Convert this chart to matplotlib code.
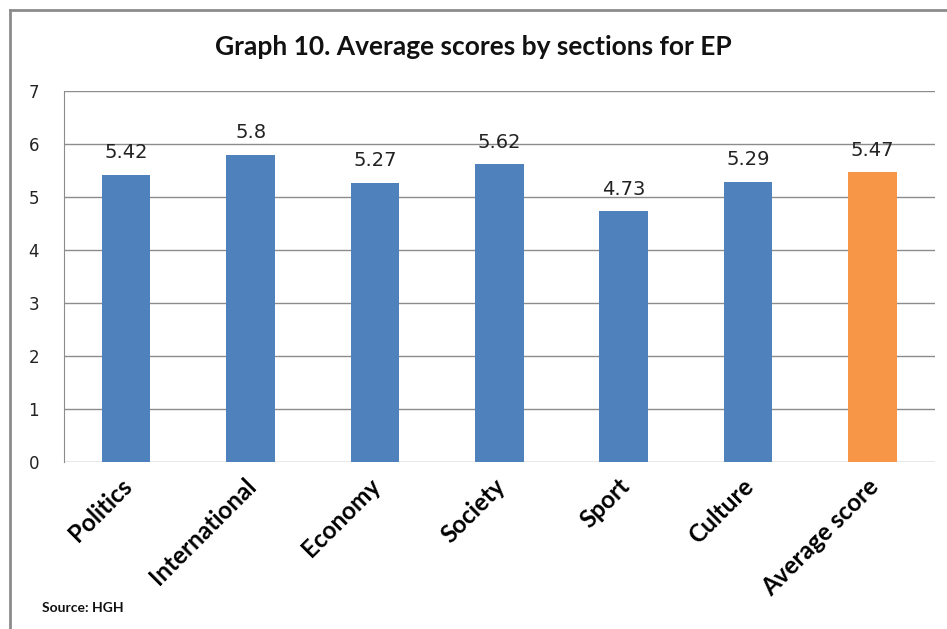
import numpy as np
import matplotlib.pyplot as plt
from matplotlib.lines import Line2D
from matplotlib.transforms import ScaledTranslation

# data
sections = ['Politics', 'International', 'Economy', 'Society', 'Sport', 'Culture', 'Average score']
scores = [5.42, 5.8, 5.27, 5.62, 4.73, 5.29, 5.47]
score_labels = ['5.42', '5.8', '5.27', '5.62', '4.73', '5.29', '5.47']
bar_colors = ['#4F81BD'] * 6 + ['#F79646']

plt.rcParams['font.family'] = ['Lato', 'DejaVu Sans']

fig = plt.figure(figsize=(9.47, 6.29), dpi=100)
ax = fig.add_axes([0.0676, 0.2655, 0.9194, 0.5898])

x = np.arange(len(sections))
bars = ax.bar(x, scores, width=0.39, color=bar_colors, zorder=3)
for b, lab in zip(bars, score_labels):
    ax.annotate(lab, (b.get_x() + b.get_width() / 2, b.get_height()),
                xytext=(0, 9), textcoords='offset points',
                ha='center', va='bottom', fontsize=14, color='#222222',
                family='DejaVu Sans')

ax.set_xlim(-0.5, len(sections) - 0.5)
ax.set_ylim(0, 7)
ax.set_yticks(range(8))
ax.yaxis.grid(True, color='#8c8c8c', linewidth=1, zorder=0)
ax.tick_params(axis='y', length=0, labelsize=12, pad=18, labelcolor='#222222')
for lbl in ax.get_yticklabels():
    lbl.set_family('DejaVu Sans')
ax.tick_params(axis='x', length=0, pad=6)
for s in ['right', 'top', 'bottom']:
    ax.spines[s].set_visible(False)
ax.spines['left'].set_color('#8c8c8c')
ax.set_xticks(x)
ax.set_xticklabels(sections, rotation=45, ha='right', va='top',
                   rotation_mode='anchor', fontsize=17.5, fontweight='bold')
for lbl in ax.get_xticklabels():
    lbl.set_transform(lbl.get_transform() + ScaledTranslation(-0.06, -0.04, fig.dpi_scale_trans))

fig.text(0.5, 0.925, 'Graph 10. Average scores by sections for EP', ha='center',
         va='center', fontsize=19, fontweight='bold', color='#111111')
fig.text(0.044, 0.033, 'Source: HGH', ha='left', va='center', fontsize=10,
         fontweight='bold', color='#111111', fontstretch='condensed')

# outer frame (left and top edges)
fig.add_artist(Line2D([0.0106, 0.0106], [0, 0.984], color='#8c8c8c', lw=2,
                      transform=fig.transFigure))
fig.add_artist(Line2D([0.0106, 1], [0.984, 0.984], color='#8c8c8c', lw=2,
                      transform=fig.transFigure))

fig.savefig('out.png', dpi=100)
